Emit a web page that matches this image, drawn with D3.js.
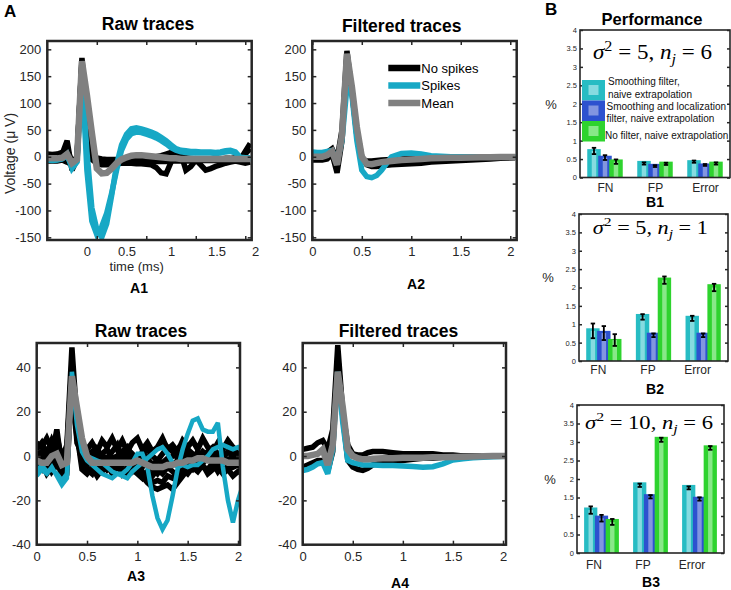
<!DOCTYPE html>
<html>
<head>
<meta charset="utf-8">
<script src="https://cdn.jsdelivr.net/npm/d3@7"></script>
<style>
body { margin: 0; background: #fff; }
</style>
</head>
<body>
<svg id="fig" width="731" height="590"></svg>
<script>
// ---- data: sample times (ms)
const tRaw = [0,0.05,0.1,0.15,0.2,0.25,0.3,0.35,0.4,0.45,0.5,0.55,0.6,0.65,0.7,0.75,0.8,0.85,0.9,0.95,
  1,1.05,1.1,1.15,1.2,1.25,1.3,1.35,1.4,1.45,1.5,1.55,1.6,1.65,1.7,1.75,1.8,1.85,1.9,1.95,2,2.05]
const tFilt = [0,0.05,0.1,0.15,0.2,0.25,0.3,0.35,0.4,0.45,0.5,0.55,0.6,0.65,0.7,
  0.8,0.9,1,1.1,1.2,1.3,1.4,1.5,1.6,1.7,1.8,1.9,2.05]

// A1 raw traces (uV)
const a1Black1 = [0,-2,0,5,30,-25,-5,184,70,5,-8,-10,-10,-10,-12,-12,-12,-12,-13,-13,
  -14,-15,-20,-30,-32,-10,10,5,-25,-18,-6,-15,-25,-22,-18,-15,-12,-10,-8,-5,10,25]
const a1Black2 = [-8,-8,-8,-6,-10,-15,-5,180,50,-5,-12,-15,-15,-14,-13,-12,-12,-11,-11,-10,
  -10,-10,-9,-9,-9,-8,-8,-8,-8,-8,-8,-7,-7,-7,-7,-7,-7,-7,-8,-10,-12,-10]
const a1Black3 = [5,4,5,8,15,-10,0,175,60,5,-2,-4,-5,-5,-5,-4,-4,-3,-3,-2,
  -2,-1,0,2,5,8,4,0,-2,-3,-4,-4,-5,-5,-4,-4,-3,-3,-2,-2,5,15]
const a1Cyan1 = [-5,-6,-5,-3,5,-22,-10,160,-25,-120,-145,-130,-105,-68,-25,12,33,43,46,45,
  42,39,35,30,24,17,12,9,8,7,7,7,7,7,6,7,9,10,7,-3,-4,-4]
const a1Cyan2 = [-6,-7,-6,-4,2,-18,-8,150,10,-95,-135,-150,-125,-72,-15,22,42,52,54,52,
  49,46,42,36,30,22,15,12,11,10,10,9,9,9,8,9,11,12,9,-1,-2,-2]
const a1Mean = [-3,-3,-3,-2,5,-12,-5,178,115,45,-22,-31,-30,-22,-12,-5,-1,2,3,3,
  2,1,0,-1,-2,-3,-3,-4,-4,-4,-4,-4,-4,-4,-4,-4,-4,-4,-4,-4,-4,-4]

// A2 filtered traces (uV)
const a2Black1 = [6,6,6,8,15,-5,50,197,120,40,-3,-8,-8,-7,-6,-5,-4,-3,-3,-2,-2,-1,-1,-1,-1,0,0,0]
const a2Black2 = [-6,-6,-6,-4,5,-30,30,190,125,50,0,-15,-18,-18,-17,-15,-14,-13,-12,-10,-9,-8,-7,-6,-5,-4,-3,-2]
const a2Cyan = [9,8,8,10,12,-10,30,130,115,30,-25,-37,-39,-35,-25,0,6,7,5,2,1,0,0,0,0,0,0,0]
const a2Mean = [0,0,0,3,10,-15,40,192,130,55,0,-13,-14,-12,-10,-8,-6,-5,-4,-3,-2.5,-2,-2,-1.5,-1,-1,-0.5,-0.5]

// A3 raw traces (uV)
const a3Black1 = [6,4,8,3,9,-1,5,49,16,4,3,6,2,7,4,8,3,7,2,6,8,3,6,2,4,8,3,5,2,7,4,7,3,8,4,2,6,3,7,4,2,4]
const a3Black2 = [-2,1,-3,0,12,-5,-1,40,12,-2,-4,-1,-5,-2,-6,-3,-1,-4,0,-3,-2,-5,-1,-4,-2,-3,-1,-4,-2,0,-3,-1,-4,-2,1,-3,-5,-2,-4,-1,-3,-2]
const a3Black3 = [-6,-3,-8,-5,-2,-9,-4,35,10,-6,-8,-5,-9,-6,-4,-8,-5,-7,-9,-6,-8,-10,-7,-9,-6,-8,-5,-7,-9,-6,-8,-5,-7,-4,-8,-6,-5,-8,-6,-9,-7,-8]
const a3Black4 = [2,-1,0,-2,4,-3,0,30,8,0,-3,-2,-4,-1,-3,-2,-5,-3,-2,-4,-6,-9,-12,-14,-15,-14,-13,-15,-12,-9,-6,-3,-1,2,0,-2,-1,1,-3,-1,0,-2]
const a3Black5 = [0,2,-2,3,1,-4,2,38,6,1,0,2,-1,1,3,-1,0,2,4,0,-1,1,3,0,-2,1,4,2,-1,0,3,1,-2,0,2,4,1,-1,2,0,-2,-1]
const a3Black6 = [3,6,1,7,2,-6,3,42,14,5,1,-2,3,0,-1,2,5,-1,3,1,-3,2,-2,-6,-8,-5,-2,0,3,-1,1,-2,2,-3,-1,2,-2,0,-4,2,-1,1]
const a3Black7 = [-4,-6,-2,-7,-4,-6,-7,33,9,-3,-6,-8,-3,-7,-5,-6,-3,-8,-5,-7,-4,-7,-10,-12,-11,-12,-9,-10,-7,-8,-4,-6,-3,-5,-6,-3,-7,-4,-6,-5,-4,-6]
const a3Cyan1 = [-7,-4,-7,-6,-8,-11,-8,38,17,4,0,-1,-2,-3,-5,-7,-8,-8,-6,-3,
  1,1,-5,-18,-28,-33,-29,-18,-6,3,10,16,17,12,11,11,15,-5,-20,-30,-20,-13]
const a3Cyan2 = [-9,-6,-8,-5,-9,-13,-10,36,14,2,-2,-4,-6,-8,-9,-10,-8,-9,-10,-7,
  -5,-3,-1,1,3,4,1,-3,-5,-4,-5,-4,-4,-2,0,3,4,5,4,3,4,2]
const a3Mean = [-2,-3,-3,0,1,-4,-3,36,22,8,0,-3,-3,-3,-3,-3,-3,-3,-3,-3,
  -2,-3,-4,-5,-5,-5,-4,-4,-3,-3,-2,-2,-1,-1,-2,-2,-2,-2,-3,-3,-3,-3]

// A4 filtered traces (uV)
const a4Black1 = [3,3.5,4,6,7,3,12,50,20,5,1,0.5,0.5,1.5,2,2,1.5,1,1,1,1,0.5,0.5,0,0,0,0,0]
const a4Black2 = [-5,-4,-3,-2,-2,-7,2,45,18,-2,-5,-6,-6.5,-5.5,-4,-3,-2.5,-2,-1.5,-1,-1,-0.5,-0.5,0,0,0,0,0]
const a4Cyan = [-6.5,-6,-5,-3.5,-3,-8,3,38,15,-2,-3,-3.5,-4,-4,-4,-4.3,-4.3,-4.5,-4.7,-5,-4.8,-3.5,-1.8,-1.2,-0.8,-0.5,-0.3,0]
const a4Mean = [0,0,0.5,1,3,-4,5,38,22,3,0,-1,-1.5,-1.5,-1.2,-1,-1,-0.8,-0.8,-0.8,-0.6,-0.5,-0.4,-0.3,-0.2,-0.1,0,0]

const bigYTicks = [-150,-100,-50,0,50,100,150,200]
const smallYTicks = [-40,-20,0,20,40]
const timeTicks = [0,0.5,1,1.5,2]
const a1MarkTicks = [0.5,1,1.5,2]
const a1TickLabels = ['0','0.5','1','1.5','2']
const a1TickLabelAt = [0.4,0.8,1.25,1.71,2.1]
const legendA = ['No spikes','Spikes','Mean']

// B performance (%), rows = methods, columns = FN, FP, Error
const perfCats = ['FN','FP','Error']
const methodLines = [['Smoothing filter,','naive extrapolation'],
  ['Smoothing and localization','filter, naive extrapolation'],
  ['No filter, naive extrapolation']]
const perfTicks = [0,0.5,1,1.5,2,2.5,3,3.5,4]
const sigma2 = [5,5,10]
const nj = [6,1,6]
const b1Bars = [[0.77,0.45,0.47],[0.59,0.37,0.38],[0.49,0.43,0.43]]
const b1Means = [[0.72,0.38,0.43],[0.54,0.31,0.34],[0.43,0.37,0.38]]
const b1Errs = [[0.085,0.03,0.03],[0.065,0.025,0.025],[0.06,0.03,0.03]]
const b2Bars = [[0.89,1.28,1.23],[0.82,0.77,0.77],[0.6,2.27,2.09]]
const b2Means = [[0.82,1.2,1.16],[0.76,0.7,0.7],[0.57,2.2,2.0]]
const b2Errs = [[0.2,0.075,0.07],[0.19,0.05,0.05],[0.16,0.1,0.1]]
const b3Bars = [[1.23,1.91,1.84],[1.01,1.59,1.52],[0.92,3.14,2.91]]
const b3Means = [[1.16,1.83,1.76],[0.94,1.52,1.46],[0.84,3.06,2.84]]
const b3Errs = [[0.1,0.045,0.04],[0.09,0.045,0.045],[0.08,0.055,0.05]]

// ---- styles
const FONT = '"Liberation Sans", Arial, Helvetica, sans-serif'
const SERIF = '"Liberation Serif", "DejaVu Serif", serif'
const INK = '#262626'
const BLACK = '#000000', CYAN = '#17a8c5', GRAY = '#808080'
const barCols = ['#27bcc3', '#2d52cf', '#2ed32e']
const barLight = ['#86dbe0', '#8296e0', '#88e888']
const barOffsets = [-0.22, 0, 0.22]
const barWidth = 0.27, stripeWidth = 0.09
const legendLineY = [[1.7, 14.3], [26, 38.3], [55]]   // 图例文字行位置（相对图例顶部）

const svg = d3.select('#fig')

function styleAxis(sel, size) {
    sel.select('.domain').remove()
    sel.selectAll('line').attr('stroke', INK).attr('stroke-width', 1.5)
    sel.selectAll('text').attr('font-size', size).attr('fill', INK).attr('font-family', FONT)
}

function addText(x, y, str, size, weight, anchor) {
    return svg.append('text')
        .attr('x', x).attr('y', y)
        .attr('font-family', FONT)
        .attr('font-size', size)
        .attr('font-weight', weight || 'normal')
        .attr('text-anchor', anchor || 'middle')
        .text(str)
}

// 画轨迹面板
function tracePanel(p) {
    const [x0, y0, x1, y1] = p.box
    const w = x1 - x0, h = y1 - y0
    const g = svg.append('g').attr('transform', 'translate(' + x0 + ',' + y0 + ')')
    const x = d3.scaleLinear().domain(p.xDomain).range([0, w])
    const y = d3.scaleLinear().domain(p.yDomain).range([h, 0])

    g.append('clipPath').attr('id', 'clip-' + p.id)
        .append('rect').attr('width', w).attr('height', h)
    const line = d3.line().x((d) => x(d[0])).y((d) => y(d[1]))
    const plot = g.append('g').attr('clip-path', 'url(#clip-' + p.id + ')')
    p.series.forEach((s) => {
        plot.append('path')
            .datum(p.t.map((t, i) => [t, s.v[i]]))
            .attr('d', line)
            .attr('fill', 'none')
            .attr('stroke', s.color)
            .attr('stroke-width', s.w)
            .attr('stroke-linejoin', 'miter')
            .attr('stroke-miterlimit', 3)
    })

    const fmt = (d) => String(d)
    const noLabel = () => ''
    const xMarks = p.xMarks || p.xTicks
    g.append('g').attr('transform', 'translate(0,' + h + ')')
        .call(d3.axisBottom(x).tickValues(xMarks).tickSizeInner(-4).tickSizeOuter(0).tickPadding(7)
            .tickFormat(p.xLabelAt ? noLabel : fmt))
        .call((s) => styleAxis(s, 13))
    if (p.xLabelAt) {
        // 标签位置与刻度不一致
        g.append('g').attr('transform', 'translate(0,' + h + ')')
            .call(d3.axisBottom(x).tickValues(p.xLabelAt).tickSize(0).tickPadding(7)
                .tickFormat((d, i) => p.xLabels[i]))
            .call((s) => styleAxis(s, 13))
    }
    g.append('g')
        .call(d3.axisTop(x).tickValues(xMarks).tickSizeInner(-4).tickSizeOuter(0).tickFormat(noLabel))
        .call((s) => styleAxis(s, 13))
    g.append('g')
        .call(d3.axisLeft(y).tickValues(p.yTicks).tickSizeInner(-4).tickSizeOuter(0).tickPadding(6).tickFormat(fmt))
        .call((s) => styleAxis(s, 13))
    g.append('g').attr('transform', 'translate(' + w + ',0)')
        .call(d3.axisRight(y).tickValues(p.yTicks).tickSizeInner(-4).tickSizeOuter(0).tickFormat(noLabel))
        .call((s) => styleAxis(s, 13))

    g.append('rect').attr('width', w).attr('height', h)
        .attr('fill', 'none').attr('stroke', INK).attr('stroke-width', 2.5)

    if (p.legend) {
        const lg = g.append('g').attr('transform', 'translate(76,27)')
        p.legend.forEach((name, i) => {
            lg.append('line').attr('x1', 0).attr('x2', 32).attr('y1', i * 17.5).attr('y2', i * 17.5)
                .attr('stroke', [BLACK, CYAN, GRAY][i]).attr('stroke-width', 6.5)
            lg.append('text').attr('x', 33).attr('y', i * 17.5).attr('dy', '0.35em')
                .attr('font-family', FONT).attr('font-size', 13).attr('fill', BLACK).text(name)
        })
    }
    return g
}

function sigmaLabel(cx, base, s2, n, size, len) {
    const t = svg.append('text').attr('x', cx).attr('y', base)
        .attr('text-anchor', 'middle')
        .attr('font-family', SERIF).attr('font-size', size)
        .attr('textLength', len).attr('lengthAdjust', 'spacingAndGlyphs')
        .style('white-space', 'pre')
    t.append('tspan').attr('font-style', 'italic').text('σ')
    t.append('tspan').attr('dy', -0.42 * size).attr('font-size', size * 0.7).text('2')
    t.append('tspan').attr('dy', 0.42 * size).text(' = ' + s2 + ', ')
    t.append('tspan').attr('font-style', 'italic').text('n')
    t.append('tspan').attr('dy', 0.22 * size).attr('font-size', size * 0.7).attr('font-style', 'italic').text('j')
    t.append('tspan').attr('dy', -0.22 * size).text(' = ' + n)
}

// 画柱状图面板
function barPanel(p) {
    const [x0, y0, x1, y1] = p.box
    const w = x1 - x0, h = y1 - y0
    const g = svg.append('g').attr('transform', 'translate(' + x0 + ',' + y0 + ')')
    const x = d3.scaleLinear().domain([0.5, 3.5]).range([0, w])
    const y = d3.scaleLinear().domain([0, 4]).range([h, 0])

    const rows = []
    p.bars.forEach((row, mi) => row.forEach((v, ci) => {
        rows.push({ mi: mi, c: ci + 1 + barOffsets[mi], v: v, m: p.means[mi][ci], e: p.errs[mi][ci] })
    }))

    g.selectAll('rect.bar').data(rows).enter().append('rect')
        .attr('class', 'bar')
        .attr('x', (d) => x(d.c - barWidth / 2))
        .attr('width', (d) => x(d.c + barWidth / 2) - x(d.c - barWidth / 2))
        .attr('y', (d) => y(d.v))
        .attr('height', (d) => y(0) - y(d.v))
        .attr('fill', (d) => barCols[d.mi])
    g.selectAll('rect.stripe').data(rows).enter().append('rect')
        .attr('class', 'stripe')
        .attr('x', (d) => x(d.c - stripeWidth / 2))
        .attr('width', (d) => x(d.c + stripeWidth / 2) - x(d.c - stripeWidth / 2))
        .attr('y', (d) => y(d.m))
        .attr('height', (d) => y(0) - y(d.m))
        .attr('fill', (d) => barLight[d.mi])
    const eb = g.selectAll('g.err').data(rows).enter().append('g').attr('class', 'err')
    eb.append('line')
        .attr('x1', (d) => x(d.c)).attr('x2', (d) => x(d.c))
        .attr('y1', (d) => y(d.m - d.e)).attr('y2', (d) => y(d.m + d.e))
    eb.append('line')
        .attr('x1', (d) => x(d.c) - 2.2).attr('x2', (d) => x(d.c) + 2.2)
        .attr('y1', (d) => y(d.m - d.e)).attr('y2', (d) => y(d.m - d.e))
    eb.append('line')
        .attr('x1', (d) => x(d.c) - 2.2).attr('x2', (d) => x(d.c) + 2.2)
        .attr('y1', (d) => y(d.m + d.e)).attr('y2', (d) => y(d.m + d.e))
    eb.selectAll('line').attr('stroke', '#000').attr('stroke-width', 1.8)

    g.append('g')
        .call(d3.axisLeft(y).tickValues(perfTicks).tickSizeInner(-3).tickSizeOuter(0).tickPadding(3).tickFormat((d) => String(d)))
        .call((s) => styleAxis(s, 7.5))
    g.append('g').attr('transform', 'translate(' + w + ',0)')
        .call(d3.axisRight(y).tickValues(perfTicks).tickSizeInner(-3).tickSizeOuter(0).tickFormat(() => ''))
        .call((s) => styleAxis(s, 7.5))
    g.append('g').attr('transform', 'translate(0,' + h + ')')
        .call(d3.axisBottom(x).tickValues([1, 2, 3]).tickSize(0).tickPadding(p.catPad).tickFormat((d, i) => perfCats[i]))
        .call((s) => styleAxis(s, 12))
        .selectAll('text').attr('dx', p.catDx)

    g.append('rect').attr('width', w).attr('height', h)
        .attr('fill', 'none').attr('stroke', INK).attr('stroke-width', 1.6)

    if (p.legend) {
        const lg = g.append('g').attr('transform', 'translate(2,50)')
        methodLines.forEach((lines, i) => {
            lg.append('rect').attr('x', 0).attr('y', i * 20.5).attr('width', 23).attr('height', 20.5)
                .attr('fill', barCols[i])
            lg.append('rect').attr('x', 6.5).attr('y', i * 20.5 + 5).attr('width', 10).attr('height', 10)
                .attr('fill', barLight[i])
            lines.forEach((ln, j) => {
                lg.append('text').attr('x', 26 - i * 1.5).attr('y', legendLineY[i][j]).attr('dy', '0.35em')
                    .attr('font-family', FONT).attr('font-size', 10).attr('fill', '#111').text(ln)
            })
        })
    }
    addText(p.pct[0], p.pct[1], '%', 13).attr('dy', '0.35em').attr('fill', INK)
    return g
}

// ---- A panels
tracePanel({
    id: 'a1', box: [47.3, 41, 251.7, 240], xDomain: [0, 2.065], yDomain: [-155, 215.5],
    t: tRaw, xTicks: timeTicks, xMarks: a1MarkTicks, xLabelAt: a1TickLabelAt, xLabels: a1TickLabels,
    yTicks: bigYTicks,
    series: [
        { v: a1Black1, color: BLACK, w: 5.5 }, { v: a1Black2, color: BLACK, w: 5.5 }, { v: a1Black3, color: BLACK, w: 5.5 },
        { v: a1Cyan1, color: CYAN, w: 5.5 }, { v: a1Cyan2, color: CYAN, w: 5.5 },
        { v: a1Mean, color: GRAY, w: 6.5 }
    ]
})
tracePanel({
    id: 'a2', box: [312.3, 41, 516.7, 240], xDomain: [0, 2.065], yDomain: [-155, 215.5],
    t: tFilt, xTicks: timeTicks, yTicks: bigYTicks, legend: legendA,
    series: [
        { v: a2Black1, color: BLACK, w: 5.5 }, { v: a2Black2, color: BLACK, w: 5.5 },
        { v: a2Cyan, color: CYAN, w: 5.5 },
        { v: a2Mean, color: GRAY, w: 6.5 }
    ]
})
tracePanel({
    id: 'a3', box: [36.7, 343, 240, 544.7], xDomain: [0, 2.02], yDomain: [-40, 51],
    t: tRaw, xTicks: timeTicks, yTicks: smallYTicks,
    series: [
        { v: a3Black1, color: BLACK, w: 5.5 }, { v: a3Black2, color: BLACK, w: 5.5 }, { v: a3Black3, color: BLACK, w: 5.5 },
        { v: a3Black4, color: BLACK, w: 5.5 }, { v: a3Black5, color: BLACK, w: 5.5 }, { v: a3Black6, color: BLACK, w: 5.5 },
        { v: a3Black7, color: BLACK, w: 5.5 },
        { v: a3Cyan1, color: CYAN, w: 4.5 }, { v: a3Cyan2, color: CYAN, w: 4.5 },
        { v: a3Mean, color: GRAY, w: 6.5 }
    ]
})
tracePanel({
    id: 'a4', box: [302.7, 343, 506, 544.7], xDomain: [0, 2.03], yDomain: [-40, 51],
    t: tFilt, xTicks: timeTicks, yTicks: smallYTicks,
    series: [
        { v: a4Black1, color: BLACK, w: 5.5 }, { v: a4Black2, color: BLACK, w: 5.5 },
        { v: a4Cyan, color: CYAN, w: 5.5 },
        { v: a4Mean, color: GRAY, w: 6.5 }
    ]
})

// ---- B panels
barPanel({ box: [580, 30, 730, 177.5], bars: b1Bars, means: b1Means, errs: b1Errs, catPad: 6, catDx: 0, pct: [551, 104], legend: true })
barPanel({ box: [579, 214, 728, 361], bars: b2Bars, means: b2Means, errs: b2Errs, catPad: 4.5, catDx: -6, pct: [548, 277] })
barPanel({ box: [577, 405, 724, 553], bars: b3Bars, means: b3Means, errs: b3Errs, catPad: 7, catDx: -8, pct: [550, 479] })
sigmaLabel(652.5, 59.3, sigma2[0], nj[0], 20, 119)
sigmaLabel(650.3, 234.3, sigma2[1], nj[1], 19, 115)
sigmaLabel(649, 429.3, sigma2[2], nj[2], 19, 128)

// ---- titles and labels
addText(148, 29.5, 'Raw traces', 17.5, 'bold')
addText(401.7, 32, 'Filtered traces', 17.5, 'bold')
addText(141, 336.5, 'Raw traces', 17.5, 'bold')
addText(398.5, 336.5, 'Filtered traces', 17.5, 'bold')
addText(652, 25, 'Performance', 16.5, 'bold')
addText(4, 17, 'A', 17, 'bold', 'start')
addText(545, 15, 'B', 17, 'bold', 'start')
addText(139, 293, 'A1', 14, 'bold')
addText(416, 289, 'A2', 14, 'bold')
addText(136, 581, 'A3', 14, 'bold')
addText(400, 587.5, 'A4', 14, 'bold')
addText(655, 207, 'B1', 14, 'bold')
addText(655, 394, 'B2', 14, 'bold')
addText(651, 587, 'B3', 14, 'bold')
addText(136.7, 271, 'time (ms)', 13).attr('fill', INK)
svg.append('text')
    .attr('transform', 'translate(15,153.5) rotate(-90)')
    .attr('font-family', FONT).attr('font-size', 14).attr('fill', INK)
    .attr('text-anchor', 'middle')
    .text('Voltage (μ V)')
</script>
</body>
</html>
